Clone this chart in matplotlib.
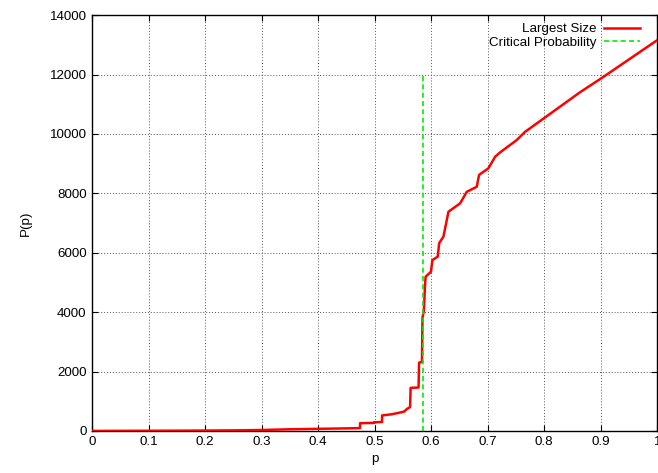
import matplotlib
matplotlib.use("Agg")
import matplotlib.pyplot as plt
import numpy as np

plt.rcParams['font.family'] = ['Liberation Sans', 'DejaVu Sans']
plt.rcParams['font.size'] = 9.6

# largest cluster size vs occupation probability
p_vals = [0.0, 0.05, 0.1, 0.15, 0.2, 0.25, 0.3, 0.33, 0.35, 0.4, 0.45, 0.474,
          0.474, 0.499, 0.499, 0.513, 0.513, 0.53, 0.545, 0.552, 0.557, 0.5625,
          0.5635, 0.5775, 0.5785, 0.5835, 0.5845, 0.587, 0.589, 0.590, 0.5995,
          0.602, 0.6115, 0.614, 0.6215, 0.6257, 0.6304, 0.651, 0.6628, 0.6805,
          0.6846, 0.701, 0.713, 0.722, 0.751, 0.766, 0.863, 0.9045, 1.0]
size_vals = [0, 2, 5, 8, 12, 18, 30, 45, 55, 70, 85, 95,
             260, 270, 290, 300, 520, 560, 620, 650, 740, 800,
             1450, 1460, 2300, 2320, 3800, 4070, 4900, 5190, 5360,
             5750, 5870, 6320, 6540, 6930, 7380, 7660, 8050, 8220,
             8620, 8840, 9230, 9380, 9790, 10070, 11400, 11920, 13160]

p_crit = 0.585
crit_top = 12000

fig = plt.figure(figsize=(6.58, 4.73), dpi=100)
ax = fig.add_axes([0.14, 0.089, 0.859, 0.879])

ax.plot(p_vals, size_vals, color='#ff0000', lw=1.8, label='Largest Size', zorder=3)
ax.plot([p_crit, p_crit], [0, crit_top], color='#00ee00', lw=1.2,
        linestyle=(0, (3, 2)), label='Critical Probability', zorder=4)

ax.set_xlim(0, 1)
ax.set_ylim(0, 14000)
ax.set_xticks(np.arange(0, 1.01, 0.1))
ax.set_xticklabels(['0', '0.1', '0.2', '0.3', '0.4', '0.5', '0.6', '0.7', '0.8', '0.9', '1'])
ax.set_yticks(np.arange(0, 14001, 2000))

ax.tick_params(direction='in', top=True, right=True, length=4, width=0.8, pad=4)
ax.grid(True, color='#555555', linestyle=(0, (1, 2)), lw=0.7)
for s in ax.spines.values():
    s.set_linewidth(1.0)

ax.set_xlabel('p', labelpad=3)
ax.set_ylabel('P(p)', labelpad=13)

ax.legend(loc='upper right', frameon=False, markerfirst=False, handlelength=2.7,
          borderaxespad=0.2, labelspacing=0.1, handletextpad=0.6,
          bbox_to_anchor=(0.984, 1.0))

fig.savefig('out.png', dpi=100)
